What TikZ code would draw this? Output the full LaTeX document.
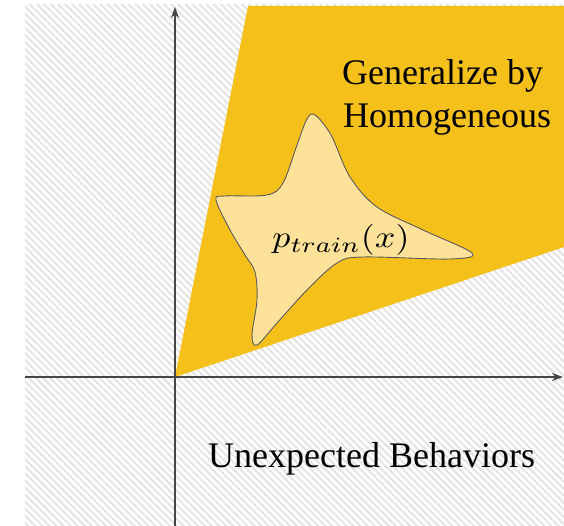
\documentclass[tikz,border=0pt]{standalone}
\usepackage{fontspec}
\setmainfont{Liberation Serif}
\usetikzlibrary{patterns.meta,arrows.meta}
\definecolor{coneorange}{RGB}{246,192,26}
\definecolor{starfill}{RGB}{255,226,154}
\definecolor{axisgray}{RGB}{70,70,70}
\definecolor{hatchgray}{RGB}{228,228,228}
\definecolor{staredge}{RGB}{90,90,90}
\begin{document}
\begin{tikzpicture}[x=1pt,y=-1pt,
  hatch/.style={pattern={Lines[angle=-45,distance=5pt,line width=2pt]},pattern color=hatchgray},
  axisline/.style={draw=axisgray,line width=1.4pt,-{Stealth[length=11pt,width=8pt]}},
  bigtext/.style={font=\fontsize{36}{43}\selectfont,inner sep=0pt,anchor=base west},
  blob/.style={fill=starfill,draw=staredge,line width=0.9pt}]
\useasboundingbox (0,0) rectangle (564,526);
\fill[white] (0,0) rectangle (564,526);
\fill[hatch] (25,5) rectangle (564,526);
% coordinates
\coordinate (O) at (175,377);
\coordinate (ybot) at (175,526);
\coordinate (ytop) at (175,7);
\coordinate (xleft) at (25,377);
\coordinate (xright) at (563,377);
\coordinate (coneA) at (248,6);
\coordinate (coneB) at (564,6);
\coordinate (coneC) at (564,247);
% cone
\fill[coneorange] (O) -- (coneA) -- (coneB) -- (coneC) -- cycle;
% star blob
\draw[blob] plot[smooth cycle, tension=0.55] coordinates {
 (315,115) (331,135) (350,177) (377,207) (423,230) (472,253)
 (450,259) (363,257) (337,263) (307,290) (277,323) (257,345)
 (252,335) (257,300) (255,272) (245,255) (230,230) (216,200)
 (225,196) (267,195) (283,183) (297,145) (307,119)};
\node[inner sep=0pt] (ptrain) at (341,240) {\resizebox*{137pt}{31pt}{$p_{train}(x)$}};
% axes
\draw[axisline] (ybot) -- (ytop);
\draw[axisline] (xleft) -- (xright);
% labels
\node[bigtext] (gen1) at (342,85) {Generalize by};
\node[bigtext] (gen2) at (343,128) {Homogeneous};
\node[bigtext] (unexp) at (208,467) {Unexpected Behaviors};
\end{tikzpicture}
\end{document}
